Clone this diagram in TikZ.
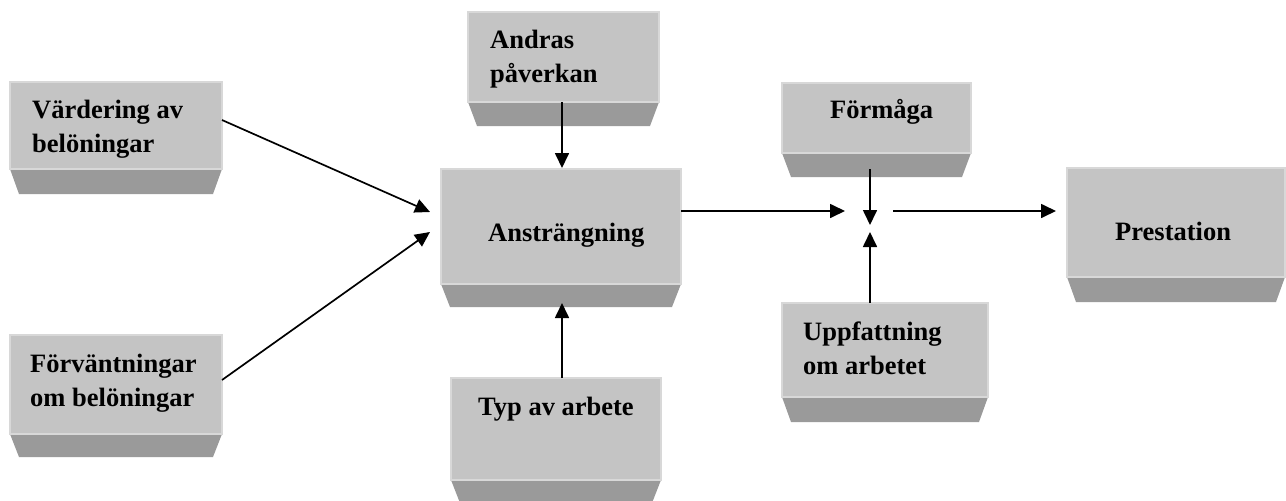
\documentclass[tikz,border=0pt]{standalone}
\usepackage{fontspec}
\setmainfont{Liberation Serif}
\usetikzlibrary{arrows.meta,calc}
\definecolor{frontc}{HTML}{C4C4C4}
\definecolor{bevc}{HTML}{9A9A9A}
\definecolor{edgec}{HTML}{D8D8D8}
\newcommand\bevbox[6]{%
  \fill[bevc] (#2,#5) -- (#4,#5) -- ({#4-9},#6) -- ({#2+9},#6) -- cycle;
  \node[frontbox, anchor=north west, minimum width={(#4-#2)*1pt}, minimum height={(#5-#3)*1pt}] (#1) at (#2,#3) {};
}
\begin{document}
\begin{tikzpicture}[x=1pt,y=-1pt,
  frontbox/.style={fill=frontc, draw=edgec, line width=2pt, inner sep=0pt, outer sep=0pt},
  lbl/.style={font=\fontsize{26.5}{34}\selectfont\bfseries, align=left, inner sep=0pt, anchor=base west},
  arr/.style={line width=1.7pt, -{Triangle[length=15pt,width=14pt]}}]
\useasboundingbox (0,0) rectangle (1286,501);
% boxes
\bevbox{v}{10}{82}{222}{169}{194}
\bevbox{f}{10}{335}{222}{434}{457}
\bevbox{a}{468}{12}{659}{102}{126}
\bevbox{ans}{441}{169}{681}{284}{307}
\bevbox{typ}{451}{378}{661}{480}{503}
\bevbox{form}{782}{83}{971}{153}{177}
\bevbox{upp}{782}{303}{988}{397}{422}
\bevbox{pre}{1067}{168}{1285}{277}{302}
% labels (base = baseline of last line)
\node[lbl] (tv) at (32,152) {Värdering av\\belöningar};
\node[lbl] (tf) at (30,406) {Förväntningar\\om belöningar};
\node[lbl] (ta) at (490,82) {Andras\\påverkan};
\node[lbl] (tans) at (488,241) {Ansträngning};
\node[lbl] (ttyp) at (478,415) {Typ av arbete};
\node[lbl] (tform) at (830,118) {Förmåga};
\node[lbl] (tupp) at (803,374) {Uppfattning\\om arbetet};
\node[lbl] (tpre) at (1115,240) {Prestation};
% connector ends
\coordinate (in1) at (430,212);
\coordinate (in2) at (430,232);
\coordinate (jl) at (845,211);
\coordinate (jt) at (870,225);
\coordinate (jb) at (870,232);
\coordinate (jr) at (893,211);
\coordinate (pin) at (1056,211);
% connectors
\draw[arr] (v.east |- 0,120) -- (in1);
\draw[arr] (f.east |- 0,380) -- (in2);
\draw[arr] (562,102) -- (562,168);
\draw[arr] (typ.north -| 562,0) -- (562,303);
\draw[arr] (ans.east |- jl) -- (jl);
\draw[arr] (870,169) -- (jt);
\draw[arr] (upp.north -| jb) -- (jb);
\draw[arr] (jr) -- (pin);
\end{tikzpicture}
\end{document}
